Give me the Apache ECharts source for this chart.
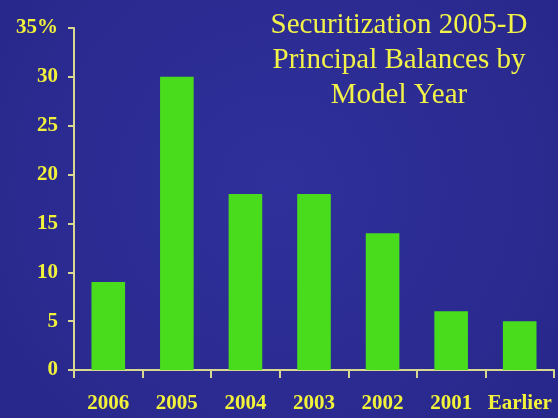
<!DOCTYPE html>
<html>
<head>
<meta charset="utf-8">
<script src="https://cdn.jsdelivr.net/npm/echarts@6/dist/echarts.min.js"></script>
<style>html,body{margin:0;padding:0;}#main{width:558px;height:418px;}</style>
</head>
<body>
<div id="main"></div>
<script>
// 数据
var years = ['2006', '2005', '2004', '2003', '2002', '2001', 'Earlier'];
var balances = [9, 30, 18, 18, 14, 6, 5];
var titleText = 'Securitization 2005-D\nPrincipal Balances by\nModel Year';

var myChart = echarts.init(document.getElementById('main'));
var option = {
    backgroundColor: {
        type: 'radial', x: 0.5, y: 0.45, r: 0.75,
        colorStops: [
            { offset: 0, color: '#30309c' },
            { offset: 1, color: '#28288c' }
        ]
    },
    title: {
        text: titleText,
        left: 394,
        top: 3,
        textAlign: 'center',
        textStyle: {
            color: '#f2f248', //字体颜色
            fontFamily: 'Liberation Serif',
            fontWeight: 'normal',
            fontSize: 29,
            lineHeight: 35
        }
    },
    grid: { left: 74, right: 4, top: 28, bottom: 48 },
    xAxis: {
        type: 'category',
        data: years,
        axisLine: { lineStyle: { color: '#d8d890', width: 2 } },
        axisTick: { show: true, interval: 0, length: 8, lineStyle: { color: '#d8d890', width: 2 } },
        axisLabel: {
            interval: 0,
            color: '#f2f23a',
            fontFamily: 'Liberation Serif',
            fontWeight: 'bold',
            fontSize: 21,
            margin: 23
        }
    },
    yAxis: {
        type: 'value',
        min: 0,
        max: 35,
        interval: 5,
        splitLine: { show: false },
        axisLine: { show: true, lineStyle: { color: '#d8d890', width: 2 } },
        axisTick: { show: true, length: 6, lineStyle: { color: '#d8d890', width: 2 } },
        axisLabel: {
            color: '#f2f23a',
            fontFamily: 'Liberation Serif',
            fontWeight: 'bold',
            fontSize: 21,
            margin: 16,
            formatter: function (v) { return v === 35 ? '35%' : v; }
        }
    },
    series: [{
        type: 'bar',
        data: balances,
        barWidth: '49%',
        itemStyle: { color: '#48dc1c' }
    }]
};
myChart.setOption(option);
</script>
</body>
</html>
